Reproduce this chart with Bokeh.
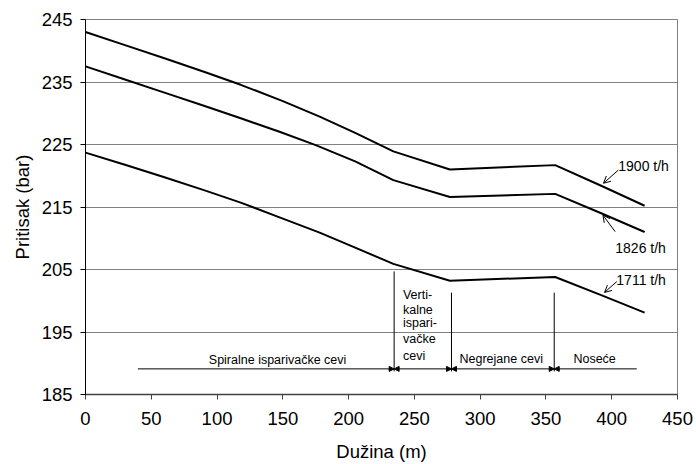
from bokeh.plotting import figure
from bokeh.models import Range1d, FixedTicker, Arrow, NormalHead, OpenHead
from bokeh.core.properties import value
from bokeh.embed import file_html
from bokeh.resources import INLINE

FONT = "Liberation Sans"

# ---- data ----
x_1900 = [0, 30, 60, 90, 118, 150, 178, 205, 234, 277, 357, 392, 425]
p_1900 = [243.0, 240.9, 238.8, 236.65, 234.55, 231.95, 229.45, 226.85, 223.9, 221.0, 221.7, 218.4, 215.2]
x_1826 = [0, 30, 60, 90, 118, 148, 175, 205, 234, 277, 357, 392, 425]
p_1826 = [237.5, 235.4, 233.3, 231.2, 229.2, 227.0, 224.9, 222.3, 219.3, 216.6, 217.1, 214.0, 211.0]
x_1711 = [0, 30, 60, 90, 118, 148, 178, 205, 234, 277, 357, 392, 425]
p_1711 = [223.7, 221.75, 219.75, 217.7, 215.7, 213.3, 210.9, 208.5, 205.9, 203.2, 203.8, 200.9, 198.1]

x_ticks = [0, 50, 100, 150, 200, 250, 300, 350, 400, 450]
y_ticks = [185, 195, 205, 215, 225, 235, 245]
x_title = "Dužina (m)"
y_title = "Pritisak (bar)"

# curve labels
curve_names = ["1900 t/h", "1826 t/h", "1711 t/h"]
curve_label_x = [405.0, 402.7, 403.5]
curve_label_y = [221.6, 208.5, 203.35]
curve_arrow_x0 = [405.0, 402.6, 403.9]
curve_arrow_y0 = [220.9, 211.06, 203.08]
curve_arrow_x1 = [393.7, 393.3, 394.5]
curve_arrow_y1 = [218.8, 213.7, 201.33]

# sections
section_bounds = [39.8, 234.6, 278.2, 356.3, 419.0]
section_line_y = 189.1
section_vline_top = [204.7, 201.3, 201.3]
section_names = ["Spiralne isparivačke cevi", "Negrejane cevi", "Noseće"]
section_label_x = [146.0, 316.0, 387.0]
section_label_y = [190.6, 190.75, 190.75]
vert_lines = ["Verti-", "kalne", "ispari-", "vačke", "cevi"]
vert_x = 241.3
vert_y = [201.0, 198.6, 196.4, 193.9, 191.1]

p = figure(width=696, height=464, x_range=Range1d(0, 450), y_range=Range1d(185, 245),
           output_backend="svg", toolbar_location=None,
           min_border_left=85, min_border_right=19, min_border_top=19, min_border_bottom=69)
p.background_fill_color = "white"
p.border_fill_color = "white"
p.outline_line_color = "#808080"
p.outline_line_width = 1

p.xgrid.grid_line_color = None
p.ygrid.grid_line_color = "#808080"
p.ygrid.grid_line_width = 1

p.xaxis.ticker = FixedTicker(ticks=x_ticks)
p.yaxis.ticker = FixedTicker(ticks=y_ticks)
for ax in (p.xaxis[0], p.yaxis[0]):
    ax.minor_tick_line_color = None
    ax.major_tick_in = 0
    ax.major_tick_out = 5
    ax.major_label_text_font = FONT
    ax.major_label_text_font_size = "18.5px"
    ax.major_label_text_color = "black"
    ax.axis_label_text_font = FONT
    ax.axis_label_text_font_size = "18.5px"
    ax.axis_label_text_font_style = "normal"
    ax.axis_label_text_color = "black"
p.xaxis.axis_label = x_title
p.yaxis.axis_label = y_title
p.xaxis.axis_line_color = "#404040"
p.xaxis.axis_line_width = 1.5
p.xaxis.major_tick_line_color = "#404040"
p.yaxis.axis_line_color = "black"
p.yaxis.major_tick_line_color = "black"
p.xaxis.major_label_standoff = 12
p.xaxis.axis_label_standoff = 13
p.yaxis.major_label_standoff = 8
p.yaxis.axis_label_standoff = 6

# curves
for xs, ys in ((x_1900, p_1900), (x_1826, p_1826), (x_1711, p_1711)):
    p.line(xs, ys, line_color="black", line_width=2)

# curve labels + arrows
p.text(x=curve_label_x, y=curve_label_y, text=curve_names, text_font=value(FONT),
       text_font_size="14px", text_align="left", text_baseline="middle", text_color="black")
for i in range(3):
    p.add_layout(Arrow(x_start=curve_arrow_x0[i], y_start=curve_arrow_y0[i],
                       x_end=curve_arrow_x1[i], y_end=curve_arrow_y1[i],
                       line_color="black", line_width=1,
                       end=OpenHead(size=7, line_color="black", line_width=1)))

# section vertical lines
p.segment(x0=section_bounds[1:4], y0=[section_line_y - 0.4] * 3,
          x1=section_bounds[1:4], y1=section_vline_top, line_color="black", line_width=1)

# section arrows
n = len(section_bounds) - 1
for i in range(n):
    start = None if i == 0 else NormalHead(size=5, fill_color="black", line_color="black", line_width=1)
    end = None if i == n - 1 else NormalHead(size=5, fill_color="black", line_color="black", line_width=1)
    p.add_layout(Arrow(x_start=section_bounds[i], y_start=section_line_y,
                       x_end=section_bounds[i + 1], y_end=section_line_y,
                       line_color="black", line_width=1, start=start, end=end))

p.text(x=section_label_x, y=section_label_y, text=section_names, text_font=value(FONT),
       text_font_size="12.5px", text_align="center", text_baseline="middle", text_color="black")
p.text(x=[vert_x] * len(vert_lines), y=vert_y, text=vert_lines, text_font=value(FONT),
       text_font_size="12.5px", text_align="left", text_baseline="middle", text_color="black")

open("out.html", "w").write(file_html(p, INLINE))
